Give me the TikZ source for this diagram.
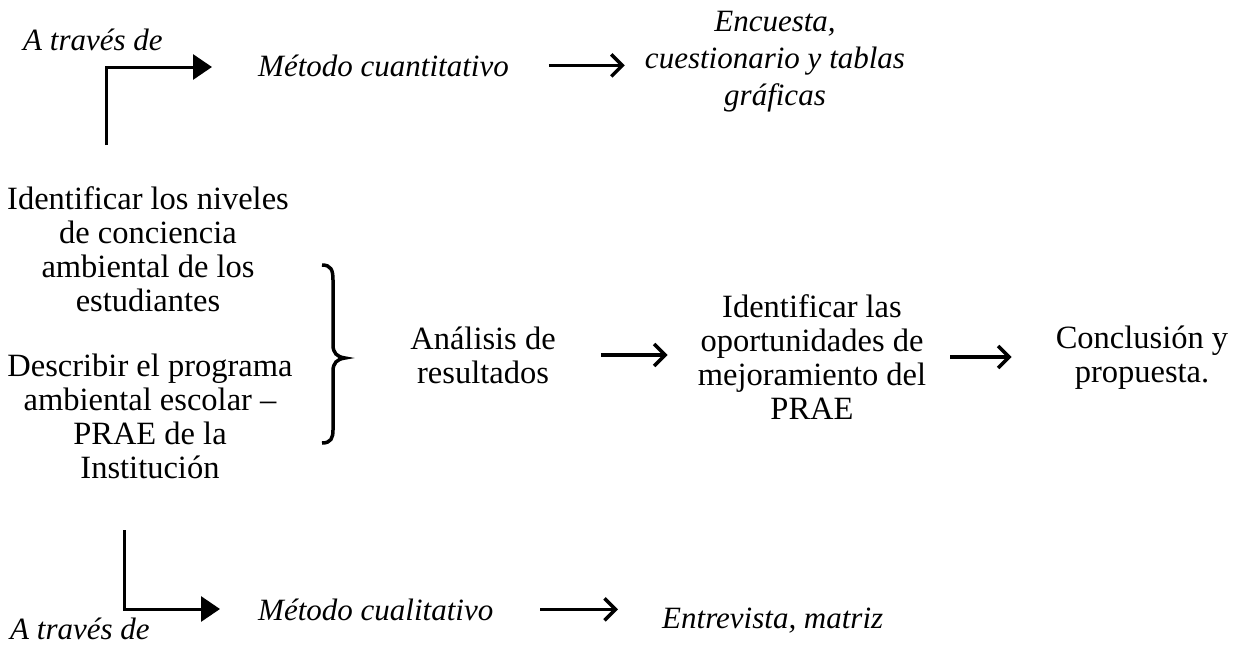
\documentclass[tikz,border=0pt]{standalone}
\usepackage{fontspec}
\setmainfont{Liberation Serif}
\usetikzlibrary{arrows.meta}
\begin{document}
\begin{tikzpicture}[x=1pt,y=-1pt,
  txt/.style={inner sep=0pt,font=\fontsize{32.5}{34}\selectfont,align=center},
  itx/.style={inner sep=0pt,font=\fontsize{31}{37}\selectfont\itshape,align=center},
  arr/.style={line width=3.5pt,-{Straight Barb[length=11pt,width=22pt,line width=3.5pt]}},
  elb/.style={line width=3pt,-{Triangle[length=19pt,width=25pt]}},
  brc/.style={line width=3.5pt}]
\useasboundingbox (0,0) rectangle (1236,646);
% texts
\node[itx,anchor=base west] (tv1) at (23,50) {A través de};
\node[itx,anchor=base west] (mcn) at (258,76) {Método cuantitativo};
\node[itx] (enc) at (775,62) {Encuesta,\\cuestionario y tablas\\gráficas};
\node[txt] (obj1) at (148,249) {Identificar los niveles\\de conciencia\\ambiental de los\\estudiantes};
\node[txt] (obj2) at (150,416) {Describir el programa\\ambiental escolar –\\PRAE de la\\Institución};
\node[txt] (ana) at (483,355) {Análisis de\\resultados};
\node[txt] (opo) at (812,357) {Identificar las\\oportunidades de\\mejoramiento del\\PRAE};
\node[txt] (con) at (1142,358) {Conclusión y\\propuesta.};
\node[itx,anchor=base west] (mcl) at (258,620) {Método cualitativo};
\node[itx,anchor=base west] (ent) at (662,628) {Entrevista, matriz};
\node[itx,anchor=base west] (tv2) at (10,639) {A través de};
% elbow arrows
\coordinate (s1) at (106,145);
\coordinate (t1) at (212,67);
\coordinate (s2) at (124,530);
\coordinate (t2) at (220,609);
\draw[elb] (s1) |- (t1);
\draw[elb] (s2) |- (t2);
% straight arrows
\draw[arr,shorten <=40pt,shorten >=20pt] (mcn.east) -- (mcn.east -| enc.west);
\draw[arr,shorten <=45pt,shorten >=30pt] (ana.east) -- (ana.east -| opo.west);
\draw[arr,shorten <=24pt,shorten >=44pt] (opo.east) -- (opo.east -| con.west);
\draw[arr,shorten <=47pt,shorten >=44pt] (mcl.east) -- (mcl.east -| ent.west);
% brace
\draw[brc] (322,265) .. controls (331,265) and (333,270) .. (333,280)
  -- (333,345) .. controls (333,353) and (337,357) .. (345,358)
  .. controls (337,359) and (333,363) .. (333,371)
  -- (333,430) .. controls (333,438) and (331,443) .. (322,443);
\end{tikzpicture}
\end{document}
